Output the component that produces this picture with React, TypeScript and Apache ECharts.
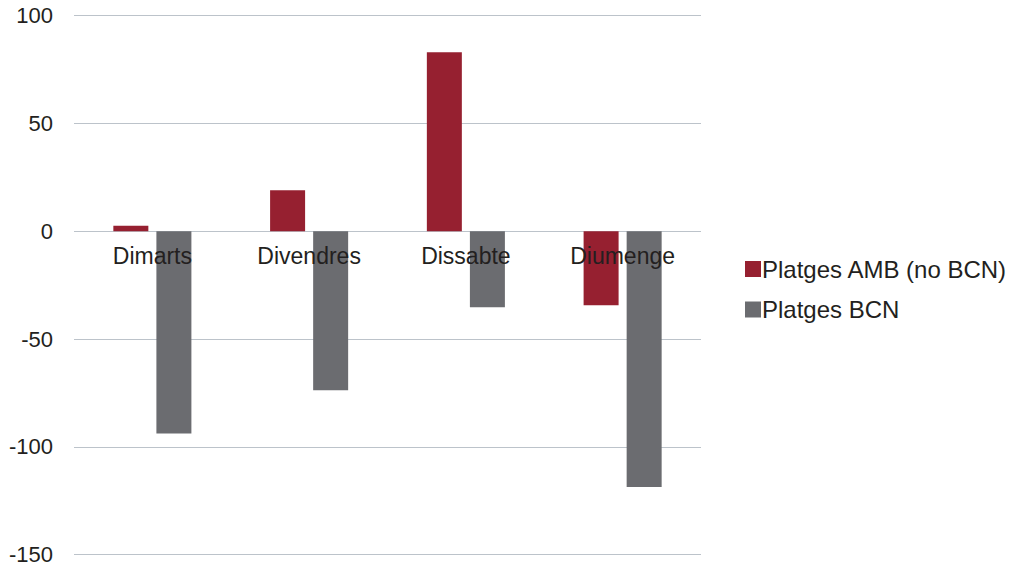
import React, { useEffect, useRef } from "react";
import * as echarts from "echarts";

const categories = ["Dimarts", "Divendres", "Dissabte", "Diumenge"];
const seriesNames = ["Platges AMB (no BCN)", "Platges BCN"];
const ambValues = [2.5, 19, 83, -34.4];
const bcnValues = [-93.8, -73.8, -35.3, -118.6];
const yTicks = [-150, -100, -50, 0, 50, 100];

export default function App() {
  const ref = useRef<HTMLDivElement>(null);
  useEffect(() => {
    if (!ref.current) return;
    const chart = echarts.init(ref.current, null, { renderer: "svg" });
    const font = "'Liberation Sans', Arial, Helvetica, sans-serif";
    const gridTop = 15.5;
    const gridBottom = 12.3;
    const plotH = 567 - gridTop - gridBottom;
    const yMin = yTicks[0];
    const yMax = yTicks[yTicks.length - 1];
    const zeroFromBottom = (plotH * (0 - yMin)) / (yMax - yMin);
    chart.setOption({
      animation: false,
      backgroundColor: "#ffffff",
      textStyle: { fontFamily: font },
      grid: { left: 74, right: 314, top: gridTop, bottom: gridBottom, containLabel: false, outerBoundsMode: "none" },
      legend: {
        orient: "vertical",
        left: 740,
        top: 252,
        itemWidth: 16,
        itemHeight: 16,
        itemGap: 16.5,
        icon: "rect",
        textStyle: { fontFamily: font, fontSize: 24, color: "#231f20", padding: [0, 0, 0, -4] },
        data: seriesNames,
      },
      xAxis: {
        type: "category",
        data: categories,
        z: 10,
        offset: -zeroFromBottom,
        axisLine: { show: false, onZero: false },
        axisTick: { show: false },
        axisLabel: { fontFamily: font, fontSize: 23, color: "#231f20", margin: 13 },
        splitLine: { show: false },
      },
      yAxis: {
        type: "value",
        min: yMin,
        max: yMax,
        interval: 50,
        axisLine: { show: false },
        axisTick: { show: false },
        axisLabel: { fontFamily: font, fontSize: 22, color: "#231f20", margin: 21 },
        splitLine: { lineStyle: { color: "#bcc3ca", width: 1.2 } },
      },
      series: [
        {
          name: seriesNames[0],
          type: "bar",
          data: ambValues,
          barWidth: 35,
          barGap: "23%",
          itemStyle: { color: "#962030" },
        },
        {
          name: seriesNames[1],
          type: "bar",
          data: bcnValues,
          barWidth: 35,
          barGap: "23%",
          itemStyle: { color: "#6b6c70" },
        },
      ],
    });
    return () => chart.dispose();
  }, []);
  return <div ref={ref} style={{ width: 1015, height: 567, position: "absolute", left: 0, top: 0 }} />;
}
